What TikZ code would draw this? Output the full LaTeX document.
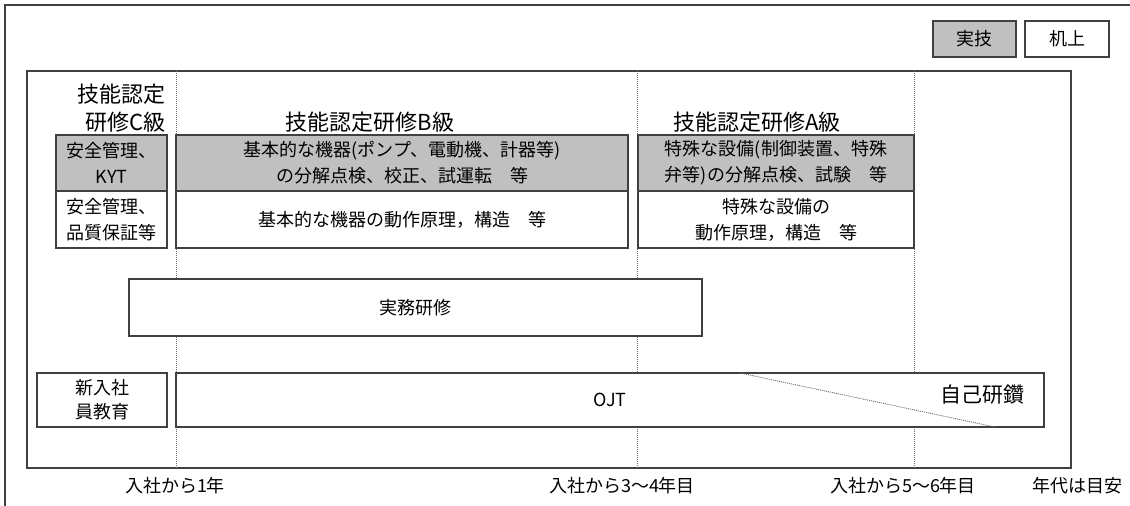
\documentclass[tikz,border=0pt]{standalone}
\usepackage{fontspec}
\setmainfont{Noto Sans CJK JP}
\usepackage{tikz}
\definecolor{edge}{RGB}{64, 64, 64}
\definecolor{practical}{RGB}{192, 192, 192}
\definecolor{guide}{RGB}{110, 110, 110}
\usetikzlibrary{positioning, calc}

\begin{document}
\begin{tikzpicture}[
    x=1pt, y=-1pt,
    box/.style={draw=edge, line width=1.1pt, rectangle, fill=white, inner sep=0pt,
                align=center, font=\fontsize{18}{26}\selectfont},
    graybox/.style={box, fill=practical},
    grade/.style={inner sep=0pt, font=\fontsize{22}{28}\selectfont},
    tick/.style={inner sep=0pt, font=\fontsize{18}{22}\selectfont},
    yearline/.style={guide, line width=0.9pt, dash pattern=on 1pt off 1pt}
]
    \useasboundingbox (0,0) rectangle (1130,506);
    % Frame
    \draw[edge, line width=1.4pt] (1130,5) -- (5,5) -- (5,506);
    \draw[edge, line width=1.3pt] (27,71) rectangle (1071,468);
    \foreach \x in {176,637,914}
        \draw[yearline] (\x,71) -- (\x,468);

    % Legend
    \node[graybox, minimum width=83pt, minimum height=36pt, font=\fontsize{18}{22}\selectfont] (practice) at (974.5,39) {実技};
    \node[box, minimum width=84pt, minimum height=36pt, font=\fontsize{18}{22}\selectfont] (desk) at (1067,39) {机上};

    % Grades
    \node[grade, anchor=east, align=right] (ctitle) at (166,108) {技能認定\\研修C級};
    \node[grade] (btitle) at (370,122) {技能認定研修B級};
    \node[grade] (atitle) at (757,122) {技能認定研修A級};

    \node[graybox, minimum width=111pt, minimum height=56pt] (cprac) at (111.5,163) {安全管理、\\KYT};
    \node[box, minimum width=111pt, minimum height=57pt] (cdesk) at (111.5,219.5) {安全管理、\\品質保証等};
    \node[graybox, minimum width=452pt, minimum height=56pt] (bprac) at (402,163) {基本的な機器(ポンプ、電動機、計器等)\\の分解点検、校正、試運転　等};
    \node[box, minimum width=452pt, minimum height=57pt] (bdesk) at (402,219.5) {基本的な機器の動作原理，構造　等};
    \node[graybox, minimum width=276pt, minimum height=56pt] (aprac) at (776,163) {特殊な設備(制御装置、特殊\\弁等)の分解点検、試験　等};
    \node[box, minimum width=276pt, minimum height=57pt] (adesk) at (776,219.5) {特殊な設備の\\動作原理，構造　等};

    % Practice and OJT
    \node[box, minimum width=573pt, minimum height=57pt, font=\fontsize{18}{22}\selectfont] (jitsumu) at (415.5,307.5) {実務研修};
    \node[box, minimum width=130pt, minimum height=54pt, font=\fontsize{18}{24}\selectfont] (newhire) at (102,400) {新入社\\員教育};
    \node[box, minimum width=868pt, minimum height=54pt, font=\fontsize{18}{22}\selectfont] (ojt) at (610,400) {OJT};
    \node[grade, font=\fontsize{21}{24}\selectfont] (selfstudy) at (982,395) {自己研鑽};
    \coordinate (splitA) at (740,373);
    \coordinate (splitB) at (995,427);
    \draw[yearline] (splitA) -- (splitB);

    % Years
    \node[tick] (year1) at (175,486) {入社から1年};
    \node[tick] (year3) at (622,486) {入社から3～4年目};
    \node[tick] (year5) at (903,486) {入社から5～6年目};
    \node[tick] (note) at (1077,486) {年代は目安};
\end{tikzpicture}
\end{document}
